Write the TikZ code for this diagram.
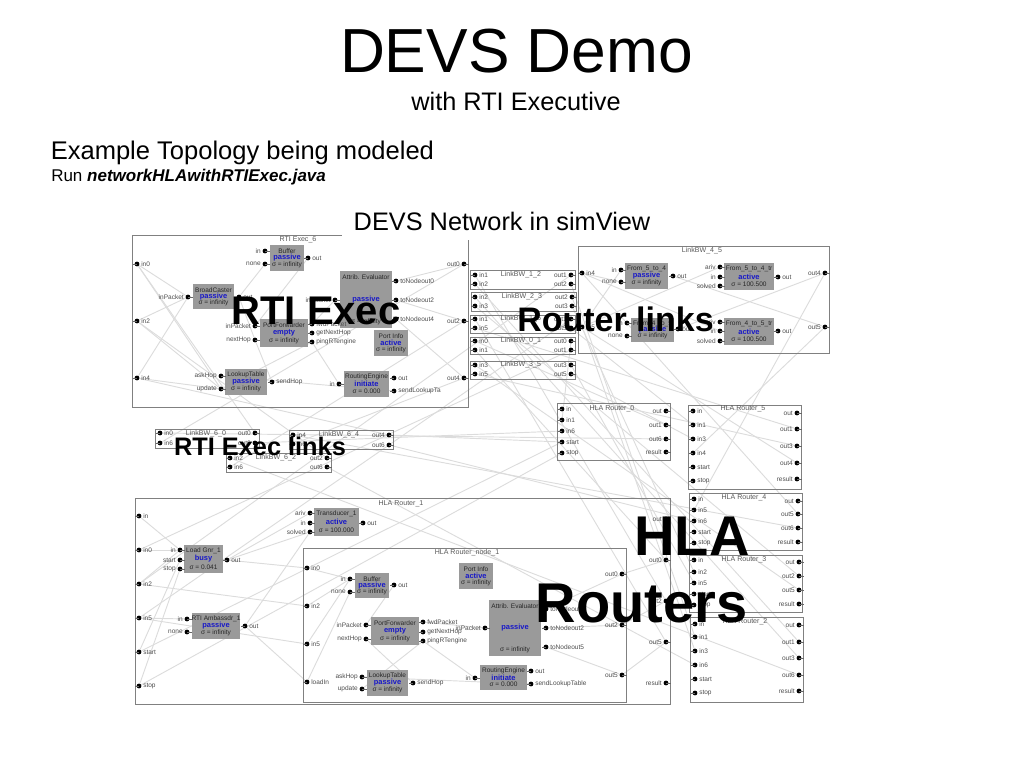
\documentclass[tikz,border=0pt]{standalone}
\usepackage{fontspec}
\setmainfont{Liberation Sans}
\usetikzlibrary{backgrounds}
\tikzset{
  wire/.style={draw=wirec,line width=0.7pt},
  pindot/.style={circle,fill=black,inner sep=0pt,minimum size=3.6pt},
  stub/.style={draw=black!60,line width=0.4pt},
  pinlab/.style={font=\fontsize{4.9pt}{5pt}\selectfont,text=black!70,inner sep=0pt},
  framebox/.style={draw=framec,line width=0.7pt,inner sep=0pt},
  atombox/.style={fill=atomc,inner sep=0pt},
  frametitle/.style={font=\fontsize{5.3pt}{6pt}\selectfont,text=black!65,inner sep=0pt},
  atomtitle/.style={font=\fontsize{4.9pt}{5pt}\selectfont,text=black!85,inner sep=0pt},
  atomstate/.style={font=\bfseries\fontsize{5.6pt}{6pt}\selectfont,text=statec,inner sep=0pt},
  bigbold/.style={font=\bfseries,inner sep=0pt,anchor=base},
  plain/.style={inner sep=0pt}
}
\definecolor{wirec}{HTML}{DCDCDC}
\definecolor{framec}{HTML}{808080}
\definecolor{atomc}{HTML}{9A9A9A}
\definecolor{statec}{HTML}{1818C8}
\newcommand\pinL[4]{\node[pindot] (#1) at (#2,#3) {};\node[pinlab,anchor=east] (#1t) at ({#2-4},#3) {#4};\draw[stub] (#1.center) -- ++(4.5,0);}
\newcommand\pinR[4]{\node[pindot] (#1) at (#2,#3) {};\node[pinlab,anchor=west] (#1t) at ({#2+4},#3) {#4};\draw[stub] (#1.center) -- ++(-4.5,0);}
\newcommand\frm[5]{\node[framebox,minimum width={(#4-#2)*0.75pt},minimum height={(#5-#3)*0.75pt}] (#1) at ({(#2+#4)/2},{(#3+#5)/2}) {};}
\newcommand\blk[8]{\node[atombox,minimum width={(#4-#2)*0.75pt},minimum height={(#5-#3)*0.75pt}] (#1) at ({(#2+#4)/2},{(#3+#5)/2}) {};
  \node[atomtitle] (#1a) at ({(#2+#4)/2},{#3+6}) {#6};
  \node[atomstate] (#1b) at ({(#2+#4)/2},{(#3+#5)/2}) {#7};
  \node[atomtitle] (#1c) at ({(#2+#4)/2},{#5-6}) {σ = #8};}
\begin{document}
\begin{tikzpicture}[x=0.75pt,y=-0.75pt]
\useasboundingbox (0,0) rectangle (1024,768);
% ---------- frames
\frm{rti}{132}{235}{468}{407}
\frm{lb12}{470}{270}{575}{289}
\frm{lb23}{471}{292}{576}{311}
\frm{lb15}{470}{315}{575}{333}
\frm{lb01}{470}{337}{575}{354}
\frm{lb35}{470}{361}{575}{379}
\frm{lb45}{578}{246}{829}{353}
\frm{rzero}{557}{403}{670}{460}
\frm{rfive}{688}{405}{801}{489}
\frm{rfour}{689}{493}{802}{550}
\frm{rthree}{689}{555}{802}{612}
\frm{rtwo}{690}{617}{803}{702}
\frm{lb60}{155}{429}{259}{448}
\frm{lb64}{289}{430}{393}{449}
\frm{lb62}{226}{453}{331}{472}
\frm{rone}{135}{498}{670}{704}
\frm{rnode}{303}{548}{626}{702}
% ---------- frame titles
\node[frametitle] (trti) at (298,240) {RTI Exec\_6};
\node[frametitle] (tlb12) at (521,275) {LinkBW\_1\_2};
\node[frametitle] (tlb23) at (522,297) {LinkBW\_2\_3};
\node[frametitle] (tlb15) at (521,319) {LinkBW\_1\_5};
\node[frametitle] (tlb01) at (521,341) {LinkBW\_0\_1};
\node[frametitle] (tlb35) at (521,365) {LinkBW\_3\_5};
\node[frametitle] (tlb45) at (702,251) {LinkBW\_4\_5};
\node[frametitle] (trzero) at (612,409) {HLA Router\_0};
\node[frametitle] (trfive) at (743,409) {HLA Router\_5};
\node[frametitle] (trfour) at (744,498) {HLA Router\_4};
\node[frametitle] (trthree) at (744,560) {HLA Router\_3};
\node[frametitle] (trtwo) at (745,622) {HLA Router\_2};
\node[frametitle] (tlb60) at (206,434) {LinkBW\_6\_0};
\node[frametitle] (tlb64) at (339,435) {LinkBW\_6\_4};
\node[frametitle] (tlb62) at (276,458) {LinkBW\_6\_2};
\node[frametitle] (trone) at (401,504) {HLA Router\_1};
\node[frametitle] (trnode) at (467,553) {HLA Router\_node\_1};
% ---------- RTI Exec
\pinR{ai0}{137}{264}{in0}\pinR{ai2}{137}{321}{in2}\pinR{ai4}{137}{378}{in4}
\pinL{ao0}{464}{264}{out0}\pinL{ao2}{464}{321}{out2}\pinL{ao4}{464}{378}{out4}
\blk{abuf}{270}{245}{304}{271}{Buffer}{passive}{infinity}
\pinL{abi}{265}{251}{in}\pinL{abn}{265}{264}{none}\pinR{abo}{308}{258}{out}
\blk{abc}{193}{284}{234}{309}{BroadCaster}{passive}{infinity}
\pinL{aci}{188}{297}{inPacket}\pinR{aco}{239}{297}{out}
\blk{aev}{340}{271}{392}{328}{Attrib. Evaluator}{passive}{infinity}
\pinL{aei}{335}{300}{inPacket}\pinR{aeo0}{396}{281}{toNodeout0}\pinR{aeo2}{396}{300}{toNodeout2}\pinR{aeo4}{396}{319}{toNodeout4}
\blk{apf}{260}{319}{308}{347}{PortForwarder}{empty}{infinity}
\pinL{api}{255}{326}{inPacket}\pinL{apn}{255}{340}{nextHop}\pinR{apf1}{312}{324}{fwdPacket}\pinR{apf2}{312}{333}{getNextHop}\pinR{apf3}{312}{342}{pingRTengine}
\blk{api1}{374}{330}{408}{356}{Port Info}{active}{infinity}
\blk{alt}{225}{369}{267}{395}{LookupTable}{passive}{infinity}
\pinL{ala}{221}{376}{askHop}\pinL{alu}{221}{389}{update}\pinR{als}{272}{382}{sendHop}
\blk{are}{344}{371}{389}{397}{RoutingEngine}{initiate}{0.000}
\pinL{ari}{339}{384}{in}\pinR{aro}{394}{378}{out}\pinR{ars}{394}{391}{sendLookupTa}
% ---------- links
\pinR{l12i1}{475}{275}{in1}\pinR{l12i2}{475}{284}{in2}\pinL{l12o1}{571}{275}{out1}\pinL{l12o2}{571}{284}{out2}
\pinR{l23i2}{475}{297}{in2}\pinR{l23i3}{475}{306}{in3}\pinL{l23o2}{572}{297}{out2}\pinL{l23o3}{572}{306}{out3}
\pinR{l15i1}{475}{319}{in1}\pinR{l15i5}{475}{328}{in5}\pinL{l15o1}{571}{319}{out1}\pinL{l15o5}{571}{328}{out5}
\pinR{l01i0}{475}{341}{in0}\pinR{l01i1}{475}{350}{in1}\pinL{l01o0}{571}{341}{out0}\pinL{l01o1}{571}{350}{out1}
\pinR{l35i3}{475}{365}{in3}\pinR{l35i5}{475}{374}{in5}\pinL{l35o3}{571}{365}{out3}\pinL{l35o5}{571}{374}{out5}
\pinR{l60i0}{160}{433}{in0}\pinR{l60i6}{160}{443}{in6}\pinL{l60o0}{255}{433}{out0}\pinL{l60o6}{255}{443}{out6}
\pinR{l64i4}{293}{435}{in4}\pinR{l64i6}{293}{444}{in6}\pinL{l64o4}{389}{435}{out4}\pinL{l64o6}{389}{445}{out6}
\pinR{l62i2}{230}{458}{in2}\pinR{l62i6}{230}{467}{in6}\pinL{l62o2}{327}{458}{out2}\pinL{l62o6}{327}{467}{out6}
% ---------- LinkBW_4_5
\pinR{l45i4}{582}{273}{in4}\pinR{l45i5}{582}{327}{in5}\pinL{l45o4}{825}{273}{out4}\pinL{l45o5}{825}{327}{out5}
\blk{f54}{625}{263}{668}{289}{From\_5\_to\_4}{passive}{infinity}
\pinL{f54i}{621}{270}{in}\pinL{f54n}{621}{282}{none}\pinR{f54o}{673}{276}{out}
\blk{t54}{724}{263}{774}{290}{From\_5\_to\_4\_tr}{active}{100.500}
\pinL{t54a}{720}{267}{ariv}\pinL{t54i}{720}{277}{in}\pinL{t54s}{720}{286}{solved}\pinR{t54o}{778}{277}{out}
\blk{f45}{631}{318}{674}{342}{From\_4\_to\_5}{passive}{infinity}
\pinL{f45i}{627}{323}{in}\pinL{f45n}{627}{336}{none}\pinR{f45o}{678}{329}{out}
\blk{t45}{724}{318}{774}{345}{From\_4\_to\_5\_tr}{active}{100.500}
\pinL{t45a}{720}{322}{ariv}\pinL{t45i}{720}{331}{in}\pinL{t45s}{720}{341}{solved}\pinR{t45o}{778}{331}{out}
% ---------- routers
\pinR{r0i}{562}{409}{in}\pinR{r0i1}{562}{420}{in1}\pinR{r0i6}{562}{431}{in6}\pinR{r0st}{562}{442}{start}\pinR{r0sp}{562}{453}{stop}
\pinL{r0o}{666}{411}{out}\pinL{r0o1}{666}{425}{out1}\pinL{r0o6}{666}{439}{out6}\pinL{r0r}{666}{452}{result}
\pinR{r5i}{693}{411}{in}\pinR{r5i1}{693}{425}{in1}\pinR{r5i3}{693}{439}{in3}\pinR{r5i4}{693}{453}{in4}\pinR{r5st}{693}{467}{start}\pinR{r5sp}{693}{481}{stop}
\pinL{r5o}{797}{413}{out}\pinL{r5o1}{797}{429}{out1}\pinL{r5o3}{797}{446}{out3}\pinL{r5o4}{797}{463}{out4}\pinL{r5r}{797}{479}{result}
\pinR{r4i}{694}{499}{in}\pinR{r4i5}{694}{510}{in5}\pinR{r4i6}{694}{521}{in6}\pinR{r4st}{694}{532}{start}\pinR{r4sp}{694}{543}{stop}
\pinL{r4o}{798}{501}{out}\pinL{r4o5}{798}{514}{out5}\pinL{r4o6}{798}{528}{out6}\pinL{r4r}{798}{542}{result}
\pinR{r3i}{694}{560}{in}\pinR{r3i2}{694}{572}{in2}\pinR{r3i5}{694}{583}{in5}\pinR{r3st}{694}{594}{start}\pinR{r3sp}{694}{605}{stop}
\pinL{r3o}{799}{562}{out}\pinL{r3o2}{799}{576}{out2}\pinL{r3o5}{799}{590}{out5}\pinL{r3r}{799}{604}{result}
\pinR{r2i}{695}{624}{in}\pinR{r2i1}{695}{637}{in1}\pinR{r2i3}{695}{651}{in3}\pinR{r2i6}{695}{665}{in6}\pinR{r2st}{695}{679}{start}\pinR{r2sp}{695}{693}{stop}
\pinL{r2o}{799}{625}{out}\pinL{r2o1}{799}{642}{out1}\pinL{r2o3}{799}{658}{out3}\pinL{r2o6}{799}{675}{out6}\pinL{r2r}{799}{691}{result}
% ---------- HLA Router_1
\pinR{r1i}{139}{516}{in}\pinR{r1i0}{139}{550}{in0}\pinR{r1i2}{139}{584}{in2}\pinR{r1i5}{139}{618}{in5}\pinR{r1st}{139}{652}{start}\pinR{r1sp}{139}{686}{stop}
\pinL{r1o}{666}{519}{out}\pinL{r1o0}{666}{560}{out0}\pinL{r1o2}{666}{601}{out2}\pinL{r1o5}{666}{642}{out5}\pinL{r1r}{666}{683}{result}
\blk{tr1}{314}{508}{359}{536}{Transducer\_1}{active}{100.000}
\pinL{tr1a}{310}{513}{ariv}\pinL{tr1i}{310}{523}{in}\pinL{tr1s}{310}{532}{solved}\pinR{tr1o}{363}{523}{out}
\blk{lg1}{184}{545}{223}{573}{Load Gnr\_1}{busy}{0.041}
\pinL{lg1i}{180}{550}{in}\pinL{lg1a}{180}{560}{start}\pinL{lg1b}{180}{569}{stop}\pinR{lg1o}{227}{560}{out}
\blk{am1}{192}{613}{240}{639}{RTI Ambassdr\_1}{passive}{infinity}
\pinL{am1i}{187}{619}{in}\pinL{am1n}{187}{632}{none}\pinR{am1o}{245}{626}{out}
% ---------- HLA Router_node_1
\pinR{ni0}{307}{568}{in0}\pinR{ni2}{307}{606}{in2}\pinR{ni5}{307}{644}{in5}\pinR{nil}{307}{682}{loadIn}
\pinL{no0}{622}{574}{out0}\pinL{no2}{622}{625}{out2}\pinL{no5}{622}{675}{out5}
\blk{nbuf}{355}{573}{389}{598}{Buffer}{passive}{infinity}
\pinL{nbi}{350}{579}{in}\pinL{nbn}{350}{592}{none}\pinR{nbo}{394}{585}{out}
\blk{npf}{371}{617}{419}{645}{PortForwarder}{empty}{infinity}
\pinL{npi}{366}{625}{inPacket}\pinL{npn}{366}{639}{nextHop}\pinR{npf1}{423}{622}{fwdPacket}\pinR{npf2}{423}{632}{getNextHop}\pinR{npf3}{423}{641}{pingRTengine}
\blk{nlt}{367}{670}{408}{696}{LookupTable}{passive}{infinity}
\pinL{nla}{362}{677}{askHop}\pinL{nlu}{362}{689}{update}\pinR{nls}{413}{683}{sendHop}
\blk{npi1}{459}{563}{493}{589}{Port Info}{active}{infinity}
\blk{nev}{489}{600}{541}{656}{Attrib. Evaluator}{passive}{infinity}
\pinL{nei}{485}{628}{inPacket}\pinR{neo0}{546}{609}{toNodeout0}\pinR{neo2}{546}{628}{toNodeout2}\pinR{neo5}{546}{647}{toNodeout5}
\blk{nre}{480}{665}{527}{690}{RoutingEngine}{initiate}{0.000}
\pinL{nri}{475}{678}{in}\pinR{nro}{531}{671}{out}\pinR{nrs}{531}{684}{sendLookupTable}
% ---------- connectors, under everything else
\begin{pgfonlayer}{background}
\foreach \a/\b in {
 ai0/aci,ai2/aci,ai4/aci,ai0/alu,ai2/alu,ai4/alu,aco/abn,abo/api,aco/apn,apf3/ari,apn/als,apf3/alu,ars/ala,apf1/aei,
 aeo0/ao0,aeo2/ao2,aeo4/ao4,
 l45i4/f54n,l45i4/t45i,l45i5/f54i,l45i5/t54a,f54o/l45o5,f45o/l45o4,
 r1i/lg1i,r1i0/lg1i,r1i2/lg1i,r1st/lg1a,r1sp/lg1b,r1i5/am1i,r1i2/ni2,r1i5/ni5,lg1o/ni0,lg1o/tr1a,am1o/tr1s,am1o/nil,lg1o/tr1s,
 ni0/nbi,ni2/nbi,ni5/nbi,nil/nbn,nbo/npi,npf3/nlu,nls/npn,npf3/nri,nrs/nla,npf1/nei,
 neo0/no0,neo2/no2,neo5/no5,no0/r1o0,no2/r1o2,no5/r1o5,
 r0o1/l01i0,l01o1/r1i0,r1o0/l01i1,l01o0/r0i1,
 r1o2/l12i1,l12o2/r2i1,r2o1/l12i2,l12o1/r1i2,
 r1o5/l15i1,l15o5/r5i1,r5o1/l15i5,l15o1/r1i5,
 r2o3/l23i2,l23o3/r3i2,r3o2/l23i3,l23o2/r2i3,
 r3o5/l35i3,l35o5/r5i3,r5o3/l35i5,l35o3/r3i5,
 r4o5/l45i4,l45o5/r5i4,r5o4/l45i5,l45o4/r4i5,
 r0o6/l60i0,l60o6/r0i6,ao0/l60i6,l60o0/ai0,
 r2o6/l62i2,l62o6/r2i6,ao2/l62i6,l62o2/ai2,
 r4o6/l64i4,l64o6/r4i6,ao4/l64i6,l64o4/ai4,
 r0st/l64o4,r1st/r0st,r1sp/r0sp}
 {\draw[wire] (\a) -- (\b);}
\end{pgfonlayer}
% ---------- slide text
\node[plain,anchor=base] (title) at (516.5,72) {\fontsize{46.7pt}{50pt}\selectfont DEVS Demo};
\node[plain,anchor=base] (subtitle) at (516,110) {\fontsize{19pt}{22pt}\selectfont with RTI Executive};
\node[plain,anchor=base west] (topo) at (50.5,159) {\fontsize{19.15pt}{22pt}\selectfont Example Topology being modeled};
\node[plain,anchor=base west] (runline) at (51,181) {\fontsize{12.75pt}{14pt}\selectfont Run \textbf{\textit{networkHLAwithRTIExec.java}}};
\node[plain,fill=white,minimum width=240pt,minimum height=28.5pt] (devsnet) at (502,221) {\fontsize{19pt}{22pt}\selectfont DEVS Network in simView};
\node[bigbold] (bigrti) at (316,324) {\fontsize{30pt}{32pt}\selectfont RTI Exec};
\node[bigbold] (biglinks) at (615.5,331) {\fontsize{25.5pt}{28pt}\selectfont Router links};
\node[bigbold] (bigrtil) at (260,455) {\fontsize{19pt}{22pt}\selectfont RTI Exec links};
\node[bigbold] (bighla) at (692,555) {\fontsize{42pt}{44pt}\selectfont HLA};
\node[bigbold] (bigrouters) at (641.5,622) {\fontsize{42pt}{44pt}\selectfont Routers};
\end{tikzpicture}
\end{document}
